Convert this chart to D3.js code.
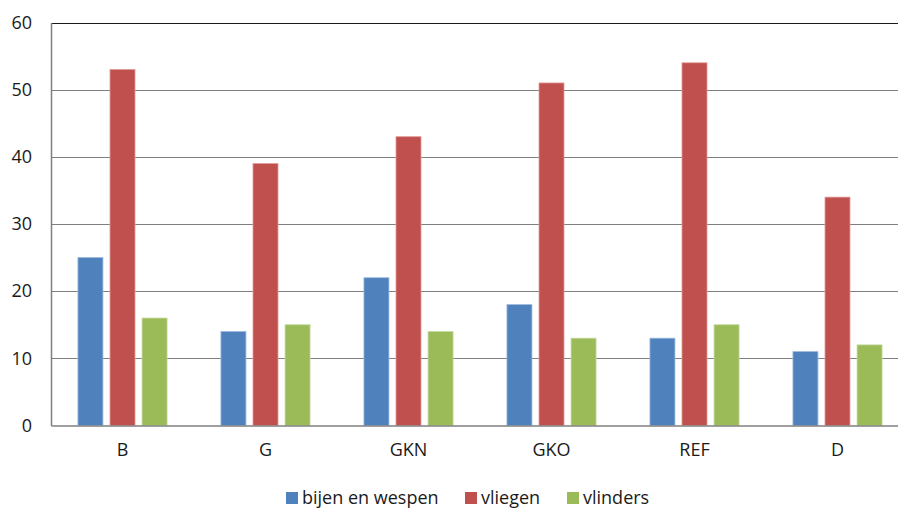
<!DOCTYPE html>
<html>
<head>
<meta charset="utf-8">
<script src="https://cdn.jsdelivr.net/npm/d3@7"></script>
<style>
  html, body { margin: 0; padding: 0; background: #fff; overflow: hidden; }
  svg { display: block; }
  text { font-family: "Open Sans", "DejaVu Sans", sans-serif; fill: #1a1a1a; }
</style>
</head>
<body>
<svg id="chart" width="898" height="508"></svg>
<script>
// Aantal soorten per groep en per gebied
const categories = ["B", "G", "GKN", "GKO", "REF", "D"];
const seriesNames = ["bijen en wespen", "vliegen", "vlinders"];
const bijenEnWespen = [25, 14, 22, 18, 13, 11];
const vliegen = [53, 39, 43, 51, 54, 34];
const vlinders = [16, 15, 14, 13, 15, 12];
const yTicks = [0, 10, 20, 30, 40, 50, 60];
const colors = ["#4F81BD", "#C0504D", "#9BBB59"];
const strokes = ["#9DB9DF", "#E09C9A", "#C5DA9E"];

const series = [bijenEnWespen, vliegen, vlinders];

const svg = d3.select("#chart");
// the plot area runs a little past the right edge of the canvas
const plotLeft = 51, plotRight = 909, plotTop = 22.5, plotBottom = 425.5;

const x0 = d3.scaleBand().domain(categories).range([plotLeft, plotRight]).paddingInner(0).paddingOuter(0);
const x1 = d3.scaleBand().domain(seriesNames).range([0, x0.bandwidth()]).paddingInner(0.22).paddingOuter(0.84);
const y = d3.scaleLinear().domain([0, 60]).range([plotBottom, plotTop]);

// horizontal gridlines
svg.append("g")
  .selectAll("line")
  .data(yTicks.filter(d => d > 0))
  .join("line")
  .attr("x1", plotLeft).attr("x2", plotRight)
  .attr("y1", d => Math.round(y(d)) + 0.5).attr("y2", d => Math.round(y(d)) + 0.5)
  .attr("stroke", d => d === 60 ? "#1a1a1a" : "#7f7f7f")
  .attr("stroke-width", 1.2);

// bars
const groups = svg.append("g")
  .selectAll("g")
  .data(categories)
  .join("g")
  .attr("transform", d => `translate(${x0(d)},0)`);

groups.selectAll("rect")
  .data((c, i) => seriesNames.map((s, k) => ({ s, k, v: series[k][i] })))
  .join("rect")
  .attr("x", d => x1(d.s))
  .attr("width", x1.bandwidth())
  .attr("y", d => y(d.v))
  .attr("height", d => y(0) - y(d.v))
  .attr("fill", d => colors[d.k])
  .attr("stroke", d => strokes[d.k])
  .attr("stroke-width", 0.8);

// y axis
const yAxis = d3.axisLeft(y).tickValues(yTicks).tickSize(0).tickPadding(19).tickFormat(d3.format("d"));
const gy = svg.append("g").attr("transform", `translate(${plotLeft},0)`).call(yAxis);
gy.select(".domain").attr("stroke", "#7f7f7f").attr("stroke-width", 1.5);
gy.selectAll("text").attr("font-size", 18).attr("font-family", "'Open Sans', sans-serif").attr("fill", "#1a1a1a");

// x axis
const xAxis = d3.axisBottom(x0).tickSize(0).tickPadding(18);
const gx = svg.append("g").attr("transform", `translate(0,${plotBottom})`).call(xAxis);
gx.select(".domain").attr("stroke", "#7f7f7f").attr("stroke-width", 1.5);
gx.selectAll("text").attr("font-size", 18).attr("font-family", "'Open Sans', sans-serif").attr("fill", "#1a1a1a");

// legend
const legendX = [286, 465, 567];
const legend = svg.append("g")
  .selectAll("g")
  .data(seriesNames)
  .join("g")
  .attr("transform", (d, i) => `translate(${legendX[i]},492)`);
legend.append("rect").attr("width", 12).attr("height", 12).attr("fill", (d, i) => colors[i]);
legend.append("text")
  .attr("x", 16).attr("y", 11.5)
  .attr("font-size", 18)
  .text(d => d);
</script>
</body>
</html>
